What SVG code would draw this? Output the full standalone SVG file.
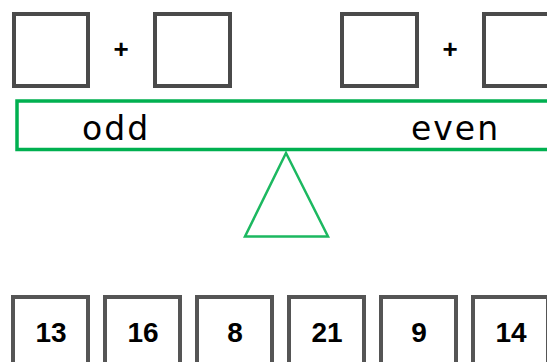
<svg xmlns="http://www.w3.org/2000/svg" width="547" height="362" viewBox="0 0 547 362">
<style>
.box{fill:#fff;stroke:#4a4a4a;stroke-width:4}
.nbox{fill:#fff;stroke:#555;stroke-width:4}
.lbl{font-family:"DejaVu Sans","Liberation Sans",sans-serif;fill:#000}
.plus{font-family:"Liberation Sans",Arial,sans-serif;font-size:26px;font-weight:bold;text-anchor:middle}
.num{font-family:"Liberation Sans",Arial,sans-serif;font-size:28px;font-weight:bold;text-anchor:middle}
.grp{font-size:33px;letter-spacing:2px}
</style>
<rect width="547" height="362" fill="#fff"/>
<g id="top-a1"><rect class="box" x="14" y="14" width="74" height="72"/></g>
<g id="plus-a"><text class="lbl plus" x="121" y="58">+</text></g>
<g id="top-a2"><rect class="box" x="155" y="14" width="75" height="72"/></g>
<g id="top-b1"><rect class="box" x="342" y="14" width="75" height="72"/></g>
<g id="plus-b"><text class="lbl plus" x="450" y="58">+</text></g>
<g id="top-b2"><rect class="box" x="484" y="14" width="75" height="72"/></g>
<g id="split">
<rect x="17" y="101" width="560" height="48.5" fill="none" stroke="#00b050" stroke-width="3.5"/>
<text class="lbl grp" x="82" y="140">odd</text>
<text class="lbl grp" x="411" y="140">even</text>
</g>
<g id="connectors">
<polygon points="286,153 245,236.5 328,236.5" fill="none" stroke="#1cb860" stroke-width="2.5" stroke-linejoin="miter"/>
</g>
<g id="n13"><rect class="nbox" x="13" y="297" width="75" height="100"/><text class="lbl num" x="51" y="342">13</text></g>
<g id="n16"><rect class="nbox" x="105" y="297" width="75" height="100"/><text class="lbl num" x="143" y="342">16</text></g>
<g id="n8"><rect class="nbox" x="197" y="297" width="75" height="100"/><text class="lbl num" x="235" y="342">8</text></g>
<g id="n21"><rect class="nbox" x="289" y="297" width="75" height="100"/><text class="lbl num" x="327" y="342">21</text></g>
<g id="n9"><rect class="nbox" x="381" y="297" width="75" height="100"/><text class="lbl num" x="419" y="342">9</text></g>
<g id="n14"><rect class="nbox" x="473" y="297" width="75" height="100"/><text class="lbl num" x="511" y="342">14</text></g>
</svg>
